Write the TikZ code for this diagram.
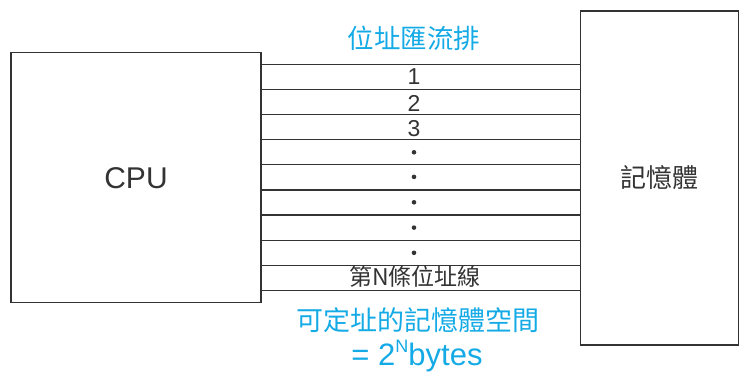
\documentclass[tikz,border=0pt]{standalone}
\usepackage{fontspec}
\setmainfont{Liberation Sans}
\newfontfamily\cjk{Noto Sans CJK TC}
\definecolor{linegray}{HTML}{333333}
\definecolor{titlecyan}{RGB}{20,170,230}
\begin{document}
\begin{tikzpicture}[x=1pt,y=-1pt,
  boxstyle/.style={draw=linegray,line width=1.5pt,fill=white,inner sep=0pt},
  busline/.style={draw=linegray,line width=1.2pt},
  rowlabel/.style={inner sep=0pt,text=linegray,font=\fontsize{23}{23}\selectfont},
  bluetext/.style={inner sep=0pt,text=titlecyan,font=\fontsize{26.5}{26.5}\selectfont\cjk},
  dotstyle/.style={circle,fill=linegray,inner sep=0pt,minimum size=4.6pt}]
\useasboundingbox (0,0) rectangle (739,372);
\node[boxstyle,minimum width=250pt,minimum height=250pt] (cpu) at (136,177.7) {};
\node[font=\fontsize{30}{30}\selectfont,text=linegray] (cpulabel) at (cpu.center) {CPU};
\node[boxstyle,minimum width=158pt,minimum height=334pt] (mem) at (659.5,177.8) {};
\node[font=\fontsize{26}{26}\selectfont\cjk,text=linegray] (memlabel) at (mem.center) {記憶體};
\foreach \i/\y in {1/64.3,2/89.3,3/114.3,4/139.8,5/164.6,6/189.9,7/215,8/240.2,9/265.4,10/290.4}{
  \coordinate (r\i) at (0,\y);
  \draw[busline] (cpu.east |- r\i) -- (mem.west |- r\i);
}
\node[rowlabel] (l1) at (414,76.5) {1};
\node[rowlabel] (l2) at (414,103) {2};
\node[rowlabel] (l3) at (414,128.5) {3};
\foreach \n/\y in {1/152.3,2/176.9,3/202.3,4/227.6,5/252.8}{
  \node[dotstyle] (d\n) at (414,\y) {};
}
\node[rowlabel,font=\fontsize{23}{23}\selectfont\cjk] (lN) at (415,277) {第N條位址線};
\node[bluetext] (title) at (414,38) {位址匯流排};
\node[bluetext,font=\fontsize{27}{27}\selectfont\cjk] (space) at (418,320) {可定址的記憶體空間};
\node[bluetext,font=\fontsize{31}{31}\selectfont] (bytes) at (417,356) {= 2\raisebox{0.45em}{\fontsize{18}{18}\selectfont N}bytes};
\end{tikzpicture}
\end{document}
